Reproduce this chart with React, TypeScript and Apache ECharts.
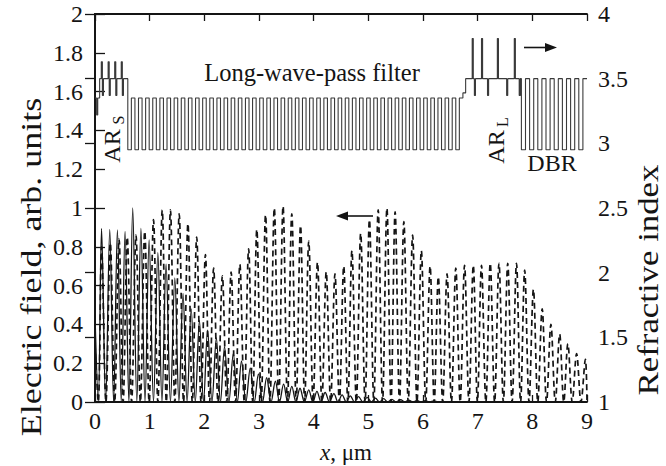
import React, { useEffect, useRef } from 'react';
import * as echarts from 'echarts';

const FONT = '"Liberation Serif", "DejaVu Serif", serif';
const INK = '#141414';

// x-axis ticks (µm)
const xTickLabels = ['0', '1', '2', '3', '4', '5', '6', '7', '8', '9'];

// Solid curve: peaks [x µm, field]
const solidStart = 0.45;
const solidPeaks: [number, number][] = [
  [0.12, 0.895], [0.27, 0.89], [0.41, 0.887], [0.55, 0.88], [0.69, 1.0], [0.84, 0.895],
  [0.99, 0.835], [1.15, 0.77], [1.3, 0.71], [1.46, 0.64], [1.61, 0.56], [1.76, 0.48],
  [1.91, 0.42], [2.06, 0.37], [2.22, 0.33], [2.37, 0.285], [2.53, 0.25], [2.68, 0.21],
  [2.84, 0.175], [2.99, 0.145], [3.14, 0.125], [3.3, 0.107], [3.45, 0.092], [3.6, 0.081],
  [3.75, 0.071], [3.91, 0.063], [4.06, 0.055], [4.21, 0.049], [4.37, 0.043], [4.52, 0.037],
  [4.67, 0.032], [4.82, 0.028], [4.98, 0.024], [5.13, 0.02], [5.28, 0.017], [5.43, 0.014],
  [5.59, 0.012], [5.74, 0.01], [5.89, 0.008], [6.04, 0.007], [6.2, 0.006],
];

// Dashed curve: peaks [x µm, field]
const dashedStart = 0.3;
const dashedPeaks: [number, number][] = [
  [0.12, 0.8], [0.28, 0.82], [0.44, 0.84], [0.59, 0.85], [0.75, 0.86], [0.91, 0.88],
  [1.07, 0.94], [1.23, 0.99], [1.38, 0.99], [1.54, 0.97], [1.7, 0.92], [1.86, 0.85],
  [2.02, 0.76], [2.17, 0.69], [2.33, 0.65], [2.49, 0.67], [2.65, 0.71], [2.81, 0.79],
  [2.96, 0.89], [3.12, 0.965], [3.28, 1.0], [3.44, 1.01], [3.6, 0.97], [3.76, 0.91],
  [3.91, 0.83], [4.07, 0.72], [4.23, 0.67], [4.39, 0.66], [4.55, 0.7], [4.7, 0.78],
  [4.86, 0.87], [5.02, 0.94], [5.18, 0.99], [5.34, 1.0], [5.49, 0.98], [5.65, 0.93],
  [5.81, 0.86], [5.97, 0.78], [6.13, 0.7], [6.28, 0.645], [6.44, 0.66], [6.6, 0.69],
  [6.76, 0.705], [6.92, 0.705], [7.07, 0.705], [7.23, 0.715], [7.39, 0.715], [7.55, 0.715],
  [7.71, 0.715], [7.86, 0.68], [8.02, 0.58], [8.18, 0.48], [8.34, 0.4], [8.5, 0.35],
  [8.65, 0.3], [8.81, 0.25], [8.97, 0.22],
];

// Refractive index profile: layer starts [x µm, n]
const arsSteps: [number, number][] = [
  [0, 3.35], [0.03, 3.22], [0.05, 3.35], [0.085, 3.5],
  [0.115, 3.63], [0.135, 3.37], [0.155, 3.5],
  [0.24, 3.63], [0.26, 3.37], [0.28, 3.5],
  [0.36, 3.63], [0.38, 3.37], [0.4, 3.5],
  [0.48, 3.63], [0.5, 3.37], [0.52, 3.5],
];
const filterStart = 0.6;
const filterEnd = 6.73;
const filterPeriods = 47;
const filterLow = 2.95;
const filterHigh = 3.35;
const arlSteps: [number, number][] = [
  [6.73, 3.39], [6.78, 3.5],
  [6.9, 3.81], [6.92, 3.5], [6.94, 3.37], [6.96, 3.5],
  [7.07, 3.81], [7.09, 3.5], [7.18, 3.37], [7.2, 3.5],
  [7.36, 3.81], [7.38, 3.5], [7.53, 3.37], [7.55, 3.5],
  [7.67, 3.81], [7.69, 3.5], [7.76, 3.37], [7.78, 3.5],
];
const dbrStart = 7.8;
const dbrEnd = 9;
const dbrPeriods = 8;
const dbrLow = 2.95;
const dbrHigh = 3.5;

function buildCurve(start: number, peaks: [number, number][], endX: number, endY: number) {
  const pts: [number, number][] = [[0, start]];
  let prev = 0;
  peaks.forEach(([x, h], i) => {
    const tx = i === 0 ? x / 2 : (prev + x) / 2;
    pts.push([tx, 0]);
    pts.push([x, h]);
    prev = x;
  });
  if (endX > prev) {
    const last = peaks[peaks.length - 1][0];
    const step = last - peaks[peaks.length - 2][0];
    const tx = Math.min(endX, last + step / 2);
    pts.push([tx, 0]);
    if (endX > tx) pts.push([endX, endY]);
  }
  return pts;
}

function periodicSteps(s: number, e: number, periods: number, low: number, high: number) {
  const out: [number, number][] = [];
  const p = (e - s) / periods;
  for (let k = 0; k < periods; k++) {
    out.push([s + k * p, low]);
    out.push([s + k * p + p / 2, high]);
  }
  return out;
}

function stepsToPoints(steps: [number, number][], end: number) {
  const pts: [number, number][] = [];
  for (let i = 0; i < steps.length; i++) {
    const [x, n] = steps[i];
    const nx = i + 1 < steps.length ? steps[i + 1][0] : end;
    pts.push([x, n]);
    pts.push([nx, n]);
  }
  return pts;
}

const indexSteps: [number, number][] = [
  ...arsSteps,
  ...periodicSteps(filterStart, filterEnd, filterPeriods, filterLow, filterHigh),
  ...arlSteps,
  ...periodicSteps(dbrStart, dbrEnd, dbrPeriods, dbrLow, dbrHigh),
];

export default function App() {
  const ref = useRef<HTMLDivElement>(null);
  useEffect(() => {
    if (!ref.current) return;
    const chart = echarts.init(ref.current, null, { renderer: 'svg' });
    const axisLine = { show: true, lineStyle: { color: INK, width: 1.8 } };
    const tick = (len: number) => ({ show: true, inside: true, length: len, lineStyle: { color: INK, width: 1.3 } });
    const label = { fontFamily: FONT, fontSize: 24, color: INK };
    const text = (t: string, x: number, y: number, rot = 0, size = 24, extra: any = {}) => ({
      type: 'text', x, y, rotation: rot, z: 10, ...extra,
      style: { text: t, fontFamily: FONT, fontSize: size, fill: INK, textAlign: 'center', textVerticalAlign: 'middle' },
    });
    const subText = (main: string, sub: string, x: number, y: number, subDx: number) => ({
      type: 'group', x, y, rotation: Math.PI / 2, z: 10,
      children: [
        { type: 'text', x: -5, y: 0, style: { text: main, fontFamily: FONT, fontSize: 24, fill: INK, textAlign: 'center', textVerticalAlign: 'middle' } },
        { type: 'text', x: subDx, y: 6, style: { text: sub, fontFamily: FONT, fontSize: 16, fill: INK, textAlign: 'center', textVerticalAlign: 'middle' } },
      ],
    });
    const option: any = {
      animation: false,
      backgroundColor: '#fff',
      grid: { left: 95, right: 79, top: 14, bottom: 64 },
      xAxis: [
        {
          type: 'value', min: 0, max: 9, interval: 1, position: 'bottom',
          axisLine, axisTick: tick(7), splitLine: { show: false },
          axisLabel: { ...label, margin: 7, formatter: (v: number) => xTickLabels[Math.round(v)] ?? String(v) },
        },
        {
          type: 'value', min: 0, max: 9, interval: 1, position: 'top',
          axisLine, axisTick: tick(7), splitLine: { show: false }, axisLabel: { show: false },
        },
      ],
      yAxis: [
        {
          type: 'value', min: 0, max: 2, interval: 0.2, position: 'left',
          axisLine, axisTick: tick(10), splitLine: { show: false },
          axisLabel: { ...label, margin: 12, formatter: (v: number) => String(Math.round(v * 10) / 10) },
        },
        {
          type: 'value', min: 1, max: 4, interval: 0.5, position: 'right',
          axisLine, axisTick: tick(10), splitLine: { show: false },
          axisLabel: { ...label, margin: 11, formatter: (v: number) => String(Math.round(v * 10) / 10) },
        },
      ],
      series: [
        {
          type: 'line', xAxisIndex: 0, yAxisIndex: 1, data: stepsToPoints(indexSteps, 9),
          showSymbol: false, lineStyle: { color: '#3a3a3a', width: 1.1 }, z: 2,
        },
        {
          type: 'line', xAxisIndex: 0, yAxisIndex: 0, data: buildCurve(dashedStart, dashedPeaks, 9, 0.1),
          showSymbol: false, smooth: 0.35, lineStyle: { color: INK, width: 1.7, type: [6, 4] }, z: 3,
        },
        {
          type: 'line', xAxisIndex: 0, yAxisIndex: 0, data: buildCurve(solidStart, solidPeaks, 9, 0),
          showSymbol: false, smooth: 0.35, lineStyle: { color: INK, width: 1.3 }, z: 4,
        },
      ],
      graphic: [
        text('Electric field, arb. units', 31, 267, Math.PI / 2, 29, { scaleX: 1.24 }),
        text('Refractive index', 648, 280, Math.PI / 2, 29, { scaleX: 1.2 }),
        {
          type: 'text', x: 346, y: 452, z: 10,
          style: {
            text: '{i|x}{n|, μm}', textAlign: 'center', textVerticalAlign: 'middle',
            rich: {
              i: { fontFamily: FONT, fontSize: 23, fontStyle: 'italic', fill: INK },
              n: { fontFamily: FONT, fontSize: 23, fill: INK },
            },
          },
        },
        text('Long-wave-pass filter', 312, 72, 0, 24.5),
        subText('AR', 'S', 112, 141, 21),
        subText('AR', 'L', 496, 142, 20),
        text('DBR', 552, 163, 0, 24),
        { type: 'line', z: 10, shape: { x1: 524, y1: 47.5, x2: 548, y2: 47.5 }, style: { stroke: INK, lineWidth: 1.6 } },
        { type: 'polygon', z: 10, shape: { points: [[545, 43], [557, 47.5], [545, 52]] }, style: { fill: INK } },
        { type: 'line', z: 10, shape: { x1: 373, y1: 216, x2: 346, y2: 216 }, style: { stroke: INK, lineWidth: 1.6 } },
        { type: 'polygon', z: 10, shape: { points: [[348, 211.5], [336, 216], [348, 220.5]] }, style: { fill: INK } },
      ],
    };
    chart.setOption(option);
    return () => chart.dispose();
  }, []);
  return <div ref={ref} style={{ position: 'fixed', left: 0, top: 0, width: 666, height: 466, background: '#fff' }} />;
}
